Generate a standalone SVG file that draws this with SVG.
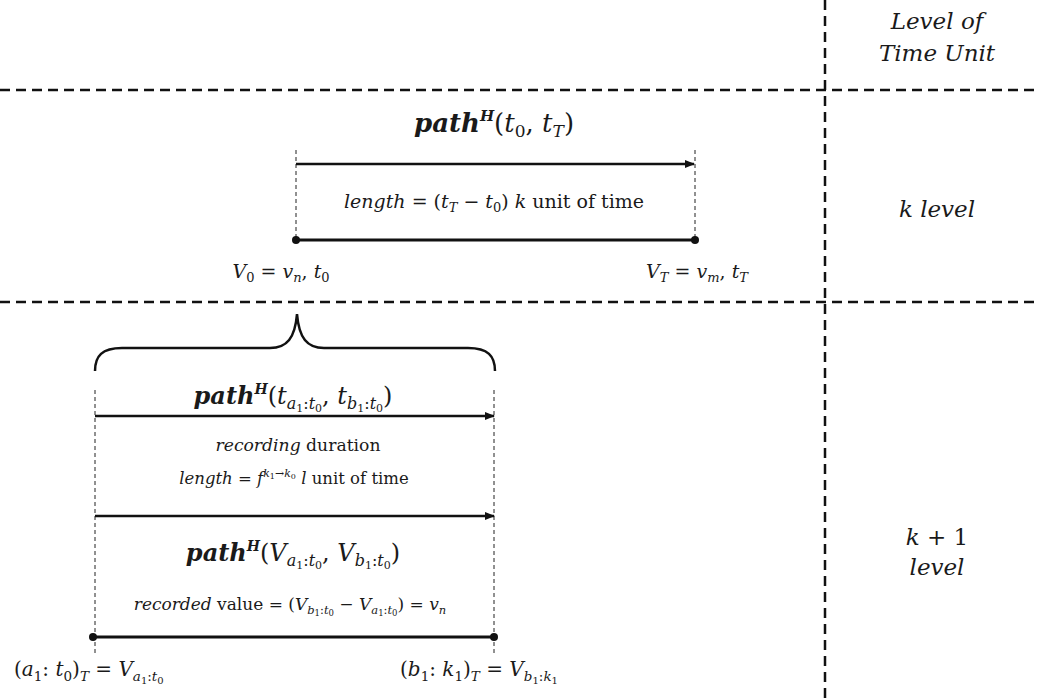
<svg xmlns="http://www.w3.org/2000/svg" width="1038" height="699" viewBox="0 0 1038 699">
<style>
text{font-family:"DejaVu Serif","Liberation Serif",serif;fill:#1a1a1a}
.i{font-style:italic}
.bi{font-style:italic;font-weight:bold}
.sep{stroke:#111;stroke-width:2.5;stroke-dasharray:10 6;fill:none}
.guide{stroke:#222;stroke-width:1;stroke-dasharray:4 3;fill:none}
.arr{stroke:#111;stroke-width:2.5;fill:none;marker-end:url(#ah)}
.seg{stroke:#111;stroke-width:3;fill:none}
.dot{fill:#111}
</style>
<defs>
<marker id="ah" markerWidth="10" markerHeight="8" refX="9" refY="4" orient="auto" markerUnits="userSpaceOnUse">
<path d="M0,0 L10,4 L0,8 z" fill="#111"/>
</marker>
</defs>
<rect width="1038" height="699" fill="#fff"/>

<g id="separators">
<line class="sep" x1="0" y1="90" x2="1038" y2="90"/>
<line class="sep" x1="0" y1="302" x2="1038" y2="302"/>
<line class="sep" x1="825" y1="0" x2="825" y2="699"/>
</g>

<g id="level-header">
<text x="937" y="29" font-size="23" text-anchor="middle" class="i">Level of</text>
<text x="937" y="61" font-size="23" text-anchor="middle" class="i">Time Unit</text>
</g>
<g id="level-k">
<text x="937" y="217" font-size="23" text-anchor="middle" class="i">k level</text>
</g>
<g id="level-k1">
<text x="937" y="545" font-size="23" text-anchor="middle"><tspan class="i">k</tspan> + 1</text>
<text x="937" y="575" font-size="23" text-anchor="middle" class="i">level</text>
</g>

<g id="node-top-path">
<line class="guide" x1="296" y1="150" x2="296" y2="240"/>
<line class="guide" x1="695" y1="150" x2="695" y2="240"/>
<text x="494" y="132" font-size="26" text-anchor="middle"><tspan class="bi">path</tspan><tspan class="bi" font-size="15" dy="-11">H</tspan><tspan dy="11">(</tspan><tspan class="i">t</tspan><tspan font-size="17" dy="5">0</tspan><tspan dy="-5">, </tspan><tspan class="i">t</tspan><tspan class="i" font-size="17" dy="5">T</tspan><tspan dy="-5">)</tspan></text>
<text x="494" y="208" font-size="19" text-anchor="middle"><tspan class="i">length</tspan> = (<tspan class="i">t</tspan><tspan class="i" font-size="13" dy="4">T</tspan><tspan dy="-4"> − </tspan><tspan class="i">t</tspan><tspan font-size="13" dy="4">0</tspan><tspan dy="-4">) </tspan><tspan class="i">k</tspan> unit of time</text>
<text x="281" y="278" font-size="19" text-anchor="middle"><tspan class="i">V</tspan><tspan font-size="13" dy="4">0</tspan><tspan dy="-4"> = </tspan><tspan class="i">v</tspan><tspan class="i" font-size="13" dy="4">n</tspan><tspan dy="-4">, </tspan><tspan class="i">t</tspan><tspan font-size="13" dy="4">0</tspan></text>
<text x="697" y="278" font-size="19" text-anchor="middle"><tspan class="i">V</tspan><tspan class="i" font-size="13" dy="4">T</tspan><tspan dy="-4"> = </tspan><tspan class="i">v</tspan><tspan class="i" font-size="13" dy="4">m</tspan><tspan dy="-4">, </tspan><tspan class="i">t</tspan><tspan class="i" font-size="13" dy="4">T</tspan></text>
</g>

<g id="brace">
<path d="M95,371 C95,356 102,348 122,348 L270,348 C287,348 295,338 297,314 C299,338 307,348 324,348 L468,348 C488,348 495,356 495,371" stroke="#111" stroke-width="2.5" fill="none"/>
</g>

<g id="node-bottom-path">
<line class="guide" x1="95" y1="390" x2="95" y2="653"/>
<line class="guide" x1="494" y1="390" x2="494" y2="653"/>
<text x="293" y="404" font-size="24" text-anchor="middle"><tspan class="bi">path</tspan><tspan class="bi" font-size="14" dy="-10">H</tspan><tspan dy="10">(</tspan><tspan class="i">t</tspan><tspan class="i" font-size="16" dy="5">a</tspan><tspan font-size="11" dy="3">1</tspan><tspan font-size="16" dy="-3">:</tspan><tspan class="i" font-size="16">t</tspan><tspan font-size="11" dy="3">0</tspan><tspan dy="-8">, </tspan><tspan class="i">t</tspan><tspan class="i" font-size="16" dy="5">b</tspan><tspan font-size="11" dy="3">1</tspan><tspan font-size="16" dy="-3">:</tspan><tspan class="i" font-size="16">t</tspan><tspan font-size="11" dy="3">0</tspan><tspan dy="-8">)</tspan></text>
<text x="298" y="451" font-size="17.2" text-anchor="middle"><tspan class="i">recording</tspan> duration</text>
<text x="294" y="484" font-size="16.5" text-anchor="middle"><tspan class="i">length</tspan> = <tspan class="i">f</tspan><tspan class="i" font-size="11" dy="-7">k</tspan><tspan font-size="8" dy="2">1</tspan><tspan font-size="11" dy="-2">→</tspan><tspan class="i" font-size="11">k</tspan><tspan font-size="8" dy="2">0</tspan><tspan dy="5"> </tspan><tspan class="i">l</tspan> unit of time</text>
<text x="293" y="561" font-size="24" text-anchor="middle"><tspan class="bi">path</tspan><tspan class="bi" font-size="14" dy="-10">H</tspan><tspan dy="10">(</tspan><tspan class="i">V</tspan><tspan class="i" font-size="16" dy="5">a</tspan><tspan font-size="11" dy="3">1</tspan><tspan font-size="16" dy="-3">:</tspan><tspan class="i" font-size="16">t</tspan><tspan font-size="11" dy="3">0</tspan><tspan dy="-8">, </tspan><tspan class="i">V</tspan><tspan class="i" font-size="16" dy="5">b</tspan><tspan font-size="11" dy="3">1</tspan><tspan font-size="16" dy="-3">:</tspan><tspan class="i" font-size="16">t</tspan><tspan font-size="11" dy="3">0</tspan><tspan dy="-8">)</tspan></text>
<text x="290" y="610" font-size="17" text-anchor="middle"><tspan class="i">recorded</tspan> value = (<tspan class="i">V</tspan><tspan class="i" font-size="11.5" dy="4">b</tspan><tspan font-size="8.5" dy="2">1</tspan><tspan font-size="11.5" dy="-2">:</tspan><tspan class="i" font-size="11.5">t</tspan><tspan font-size="8.5" dy="2">0</tspan><tspan dy="-6"> − </tspan><tspan class="i">V</tspan><tspan class="i" font-size="11.5" dy="4">a</tspan><tspan font-size="8.5" dy="2">1</tspan><tspan font-size="11.5" dy="-2">:</tspan><tspan class="i" font-size="11.5">t</tspan><tspan font-size="8.5" dy="2">0</tspan><tspan dy="-6">) = </tspan><tspan class="i">v</tspan><tspan class="i" font-size="11.5" dy="4">n</tspan></text>
<text x="14" y="676" font-size="20">(<tspan class="i">a</tspan><tspan font-size="13.5" dy="5">1</tspan><tspan dy="-5">: </tspan><tspan class="i">t</tspan><tspan font-size="13.5" dy="5">0</tspan><tspan dy="-5">)</tspan><tspan class="i" font-size="13.5" dy="5">T</tspan><tspan dy="-5"> = </tspan><tspan class="i">V</tspan><tspan class="i" font-size="13.5" dy="5">a</tspan><tspan font-size="10" dy="3">1</tspan><tspan font-size="13.5" dy="-3">:</tspan><tspan class="i" font-size="13.5">t</tspan><tspan font-size="10" dy="3">0</tspan></text>
<text x="400" y="676" font-size="20">(<tspan class="i">b</tspan><tspan font-size="13.5" dy="5">1</tspan><tspan dy="-5">: </tspan><tspan class="i">k</tspan><tspan font-size="13.5" dy="5">1</tspan><tspan dy="-5">)</tspan><tspan class="i" font-size="13.5" dy="5">T</tspan><tspan dy="-5"> = </tspan><tspan class="i">V</tspan><tspan class="i" font-size="13.5" dy="5">b</tspan><tspan font-size="10" dy="3">1</tspan><tspan font-size="13.5" dy="-3">:</tspan><tspan class="i" font-size="13.5">k</tspan><tspan font-size="10" dy="3">1</tspan></text>
</g>

<g id="connectors">
<line class="arr" x1="296" y1="164" x2="694" y2="164"/>
<line class="seg" x1="296" y1="240" x2="695" y2="240"/>
<circle class="dot" cx="296" cy="240" r="4"/>
<circle class="dot" cx="695" cy="240" r="4"/>
<line class="arr" x1="95" y1="416" x2="494" y2="416"/>
<line class="arr" x1="95" y1="516" x2="494" y2="516"/>
<line class="seg" x1="93" y1="637" x2="494" y2="637"/>
<circle class="dot" cx="93" cy="637" r="4"/>
<circle class="dot" cx="494" cy="637" r="4"/>
</g>
</svg>
